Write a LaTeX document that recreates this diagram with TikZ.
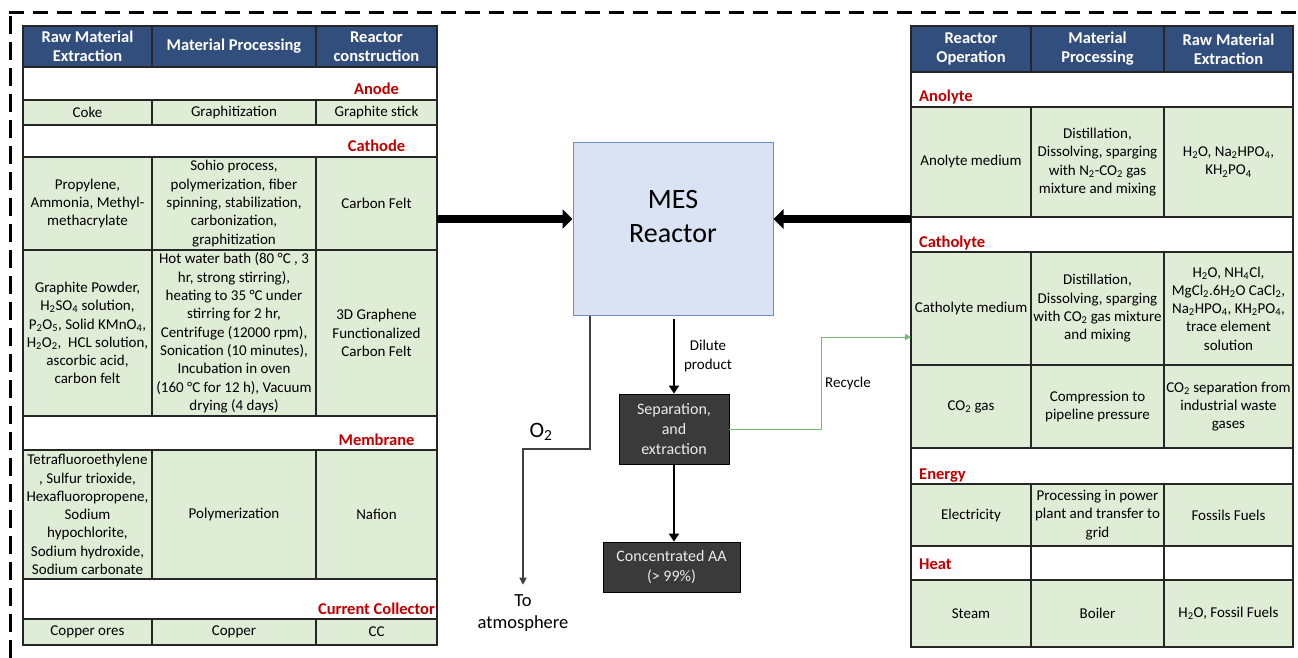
\documentclass[tikz,border=0pt]{standalone}
\usepackage{fontspec}
\setmainfont{Carlito}
\usepackage{tikz}
\usetikzlibrary{positioning}
\usetikzlibrary{calc}
\usetikzlibrary{arrows.meta}

\definecolor{headblue}{RGB}{50,78,125}
\definecolor{cellgreen}{RGB}{223,236,214}
\definecolor{secred}{RGB}{192,0,0}
\definecolor{mesblue}{RGB}{218,227,243}
\definecolor{mesline}{RGB}{110,140,200}
\definecolor{darkbox}{RGB}{58,58,58}
\definecolor{recygreen}{RGB}{110,190,110}
\definecolor{ventgray}{RGB}{64,64,64}

\tikzset{
  cell/.style={draw=black!85, line width=1.1pt, fill=cellgreen, align=center, inner xsep=0.5pt, inner ysep=0pt, font=\fontsize{15}{18.3}\selectfont},
  headcell/.style={cell, fill=headblue, text=white, font=\bfseries\fontsize{16.5}{19}\selectfont},
  blankcell/.style={cell, fill=white},
  lcolA/.style={minimum width=129pt},
  lcolB/.style={minimum width=164pt},
  lcolC/.style={minimum width=121pt},
  rcolA/.style={minimum width=120pt},
  rcolB/.style={minimum width=133pt},
  rcolC/.style={minimum width=129pt},
  section/.style={font=\bfseries\fontsize{16.5}{19}\selectfont, text=secred, inner sep=0pt},
  darkcell/.style={draw=black, line width=0.8pt, fill=darkbox, text=white!92!black, align=center, font=\fontsize{16}{19.6}\selectfont},
  bigarrow/.style={line width=8.5pt, -{Triangle[length=10pt,width=19pt]}},
  midarrow/.style={line width=2.8pt, -{Triangle[length=8pt,width=10pt]}},
  ventarrow/.style={ventgray, line width=1.4pt, -{Triangle[length=7pt,width=7pt]}},
  recyarrow/.style={recygreen, line width=1pt, -{Triangle[length=6pt,width=6pt]}},
}

\begin{document}
\begin{tikzpicture}[x=1pt,y=-1pt]
\useasboundingbox (0,0) rectangle (1298,658);

\draw[line width=3pt, dash pattern=on 18pt off 8pt] (10,658) -- (10,13);% Frame left
\draw[line width=3pt, dash pattern=on 15pt off 9pt] (8.5,13) -- (1298,13);% Frame top

% Left table
\node[headcell, lcolA, minimum height=41pt] (lHeadA) at (87.5,46.5) {Raw Material\\Extraction};
\node[headcell, lcolB, minimum height=41pt] (lHeadB) at (234,46.5) {Material Processing};
\node[headcell, lcolC, minimum height=41pt] (lHeadC) at (376.5,46.5) {Reactor\\construction};

\node[blankcell, minimum width=414pt, minimum height=33pt] (lAnode) at (230,83.5) {};
\node[section, anchor=base] (lAnodeText) at (376.5,95) {Anode};
\node[cell, lcolA, minimum height=25pt] (lCokeA) at (87.5,112.5) {Coke};
\node[cell, lcolB, minimum height=25pt] (lCokeB) at (234,112.5) {Graphitization};
\node[cell, lcolC, minimum height=25pt] (lCokeC) at (376.5,112.5) {Graphite stick};

\node[blankcell, minimum width=414pt, minimum height=32pt] (lCathode) at (230,141) {};
\node[section, anchor=base] (lCathodeText) at (376.5,152) {Cathode};
\node[cell, lcolA, minimum height=93pt] (lFeltA) at (87.5,203.5) {Propylene,\\Ammonia, Methyl-\\methacrylate};
\node[cell, lcolB, minimum height=93pt] (lFeltB) at (234,203.5) {Sohio process,\\polymerization, fiber\\spinning, stabilization,\\carbonization,\\graphitization};
\node[cell, lcolC, minimum height=93pt] (lFeltC) at (376.5,203.5) {Carbon Felt};
\node[cell, lcolA, minimum height=166pt] (lGrapA) at (87.5,333) {Graphite Powder,\\H\textsubscript{2}SO\textsubscript{4} solution,\\P\textsubscript{2}O\textsubscript{5}, Solid KMnO\textsubscript{4},\\H\textsubscript{2}O\textsubscript{2},\ \ HCL solution,\\ascorbic acid,\\carbon felt};
\node[cell, lcolB, minimum height=166pt] (lGrapB) at (234,333) {Hot water bath (80 °C , 3\\hr, strong stirring),\\heating to 35 °C under\\stirring for 2 hr,\\Centrifuge (12000 rpm),\\Sonication (10 minutes),\\Incubation in oven\\(160 °C for 12 h), Vacuum\\drying (4 days)};
\node[cell, lcolC, minimum height=166pt] (lGrapC) at (376.5,333) {3D Graphene\\Functionalized\\Carbon Felt};

\node[blankcell, minimum width=414pt, minimum height=34pt] (lMembrane) at (230,433) {};
\node[section, anchor=base] (lMembraneText) at (376.5,445) {Membrane};
\node[cell, lcolA, minimum height=129pt] (lNafA) at (87.5,514.5) {Tetrafluoroethylene\\, Sulfur trioxide,\\Hexafluoropropene,\\Sodium\\hypochlorite,\\Sodium hydroxide,\\Sodium carbonate};
\node[cell, lcolB, minimum height=129pt] (lNafB) at (234,514.5) {Polymerization};
\node[cell, lcolC, minimum height=129pt] (lNafC) at (376.5,514.5) {Nafion};

\node[blankcell, minimum width=414pt, minimum height=40pt] (lCollector) at (230,599) {};
\node[section, anchor=base] (lCollectorText) at (376.5,614) {Current Collector};
\node[cell, lcolA, minimum height=26pt] (lCopA) at (87.5,632) {Copper ores};
\node[cell, lcolB, minimum height=26pt] (lCopB) at (234,632) {Copper};
\node[cell, lcolC, minimum height=26pt] (lCopC) at (376.5,632) {CC};

% Right table
\node[headcell, rcolA, minimum height=46pt] (rHeadA) at (971,49) {Reactor\\Operation};
\node[headcell, rcolB, minimum height=46pt] (rHeadB) at (1097.5,49) {Material\\Processing};
\node[headcell, rcolC, minimum height=46pt] (rHeadC) at (1228.5,49) {Raw Material\\Extraction};

\node[blankcell, minimum width=382pt, minimum height=35pt] (rAnolyte) at (1102,89.5) {};
\node[section, anchor=base west] (rAnolyteText) at (919,102) {Anolyte};
\node[cell, rcolA, minimum height=110pt] (rAnoA) at (971,162) {Anolyte medium};
\node[cell, rcolB, minimum height=110pt] (rAnoB) at (1097.5,162) {Distillation,\\Dissolving, sparging\\with N\textsubscript{2}-CO\textsubscript{2} gas\\mixture and mixing};
\node[cell, rcolC, minimum height=110pt] (rAnoC) at (1228.5,162) {H\textsubscript{2}O, Na\textsubscript{2}HPO\textsubscript{4},\\KH\textsubscript{2}PO\textsubscript{4}};

\node[blankcell, minimum width=382pt, minimum height=35pt] (rCatholyte) at (1102,234.5) {};
\node[section, anchor=base west] (rCatholyteText) at (919,247) {Catholyte};
\node[cell, rcolA, minimum height=113pt] (rCatA) at (971,308.5) {Catholyte medium};
\node[cell, rcolB, minimum height=113pt] (rCatB) at (1097.5,308.5) {Distillation,\\Dissolving, sparging\\with CO\textsubscript{2} gas mixture\\and mixing};
\node[cell, rcolC, minimum height=113pt] (rCatC) at (1228.5,308.5) {H\textsubscript{2}O, NH\textsubscript{4}Cl,\\MgCl\textsubscript{2}.6H\textsubscript{2}O CaCl\textsubscript{2},\\Na\textsubscript{2}HPO\textsubscript{4}, KH\textsubscript{2}PO\textsubscript{4},\\trace element\\solution};
\node[cell, rcolA, minimum height=83pt] (rGasA) at (971,406.5) {CO\textsubscript{2} gas};
\node[cell, rcolB, minimum height=83pt] (rGasB) at (1097.5,406.5) {Compression to\\pipeline pressure};
\node[cell, rcolC, minimum height=83pt] (rGasC) at (1228.5,406.5) {CO\textsubscript{2} separation from\\industrial waste\\gases};

\node[blankcell, minimum width=382pt, minimum height=36pt] (rEnergy) at (1102,466) {};
\node[section, anchor=base west] (rEnergyText) at (919,479) {Energy};
\node[cell, rcolA, minimum height=62pt] (rElecA) at (971,515) {Electricity};
\node[cell, rcolB, minimum height=62pt] (rElecB) at (1097.5,515) {Processing in power\\plant and transfer to\\grid};
\node[cell, rcolC, minimum height=62pt] (rElecC) at (1228.5,515) {Fossils Fuels};

\node[blankcell, rcolA, minimum height=34pt] (rHeatA) at (971,563) {};
\node[blankcell, rcolB, minimum height=34pt] (rHeatB) at (1097.5,563) {};
\node[blankcell, rcolC, minimum height=34pt] (rHeatC) at (1228.5,563) {};
\node[section, anchor=base west] (rHeatText) at (919,569) {Heat};
\node[cell, rcolA, minimum height=67pt] (rSteamA) at (971,613.5) {Steam};
\node[cell, rcolB, minimum height=67pt] (rSteamB) at (1097.5,613.5) {Boiler};
\node[cell, rcolC, minimum height=67pt] (rSteamC) at (1228.5,613.5) {H\textsubscript{2}O, Fossil Fuels};

% Reactor and products
\node[draw=mesline, line width=1pt, fill=mesblue, minimum width=200pt, minimum height=172pt] (mes) at (673,229) {};
\node[align=center, font=\fontsize{28}{34}\selectfont] (mesText) at ([yshift=12pt]mes.center) {MES\\Reactor};
\node[darkcell, minimum width=110pt, minimum height=70pt] (sep) at (674,429) {Separation,\\and\\extraction};
\node[darkcell, minimum width=137pt, minimum height=50pt] (conc) at (671.5,567) {Concentrated AA\\(> 99\%)};

\node[align=center, font=\fontsize{15}{18.3}\selectfont] (dilute) at (708,356) {Dilute\\product};
\node[font=\fontsize{15}{18.3}\selectfont] (recycle) at (848,383) {Recycle};
\node[font=\fontsize{22}{26}\selectfont] (oxygen) at (541,432) {O\textsubscript{2}};
\node[align=center, font=\fontsize{18.5}{22.6}\selectfont] (atm) at (523,613) {To\\atmosphere};

\coordinate (inL) at (437,219);
\coordinate (inR) at (911,219);
\coordinate (ventBend) at (523,449);
\coordinate (recyBend) at (821,337);
\coordinate (recyIn) at (911,337);

\draw[bigarrow] (inL) -- (inL -| mes.west);% Left Feed
\draw[bigarrow] (inR) -- (inR -| mes.east);% Right Feed
\draw[midarrow, shorten <=3pt] (sep.north |- mes.south) -- (sep.north);% Dilute product
\draw[midarrow] (sep.south) -- (sep.south |- conc.north);
\draw[ventarrow, shorten >=6pt] ([xshift=-83pt]mes.south) |- (ventBend) -- (atm.north);% O2 out
\draw[recyarrow] (sep.east) -| (recyBend) -- (recyIn);% Recycle
\end{tikzpicture}
\end{document}
